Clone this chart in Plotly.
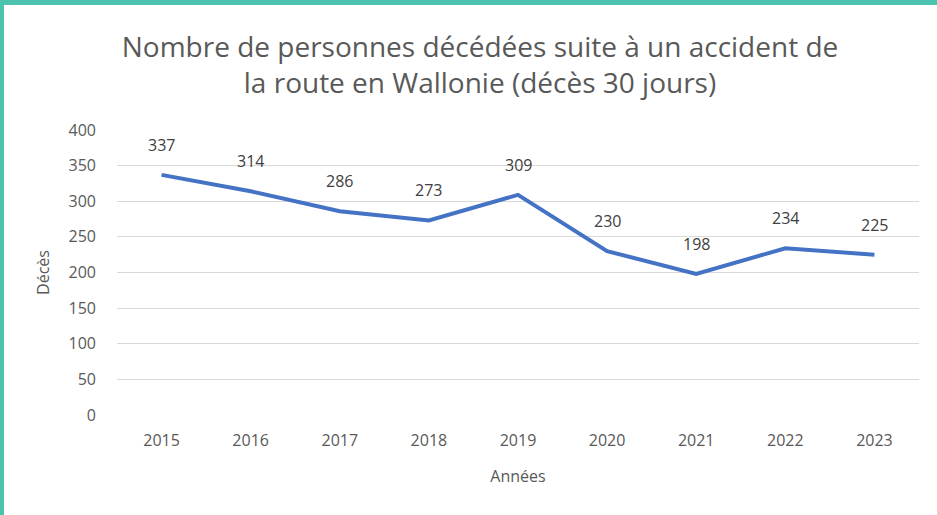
import plotly.graph_objects as go

years = ["2015", "2016", "2017", "2018", "2019", "2020", "2021", "2022", "2023"]
deaths = [337, 314, 286, 273, 309, 230, 198, 234, 225]
y_ticks = [0, 50, 100, 150, 200, 250, 300, 350, 400]

title_text = "Nombre de personnes décédées suite à un accident de<br>la route en Wallonie (décès 30 jours)"

FONT = "Open Sans"
GRAY = "#595959"

W, H = 937, 515
L, R, T, B = 117, 18, 130, 100
pw, ph = W - L - R, H - T - B

def px_to_paper_x(px):
    return (px - L) / pw

def px_to_paper_y(py):
    return (H - B - py) / ph

fig = go.Figure()
fig.add_trace(go.Scatter(
    x=years, y=deaths, mode="lines",
    line=dict(color="#4472C4", width=4),
    hoverinfo="x+y", showlegend=False,
))

for i, v in enumerate(deaths):
    fig.add_annotation(x=i, y=v, text=str(v), showarrow=False, yshift=30,
                       font=dict(family=FONT, size=16, color="#404040"))

# teal frame (top and left)
fig.add_shape(type="rect", xref="paper", yref="paper",
              x0=px_to_paper_x(0), x1=px_to_paper_x(W), y0=px_to_paper_y(5), y1=px_to_paper_y(-1),
              fillcolor="#4CC3AE", line=dict(width=0), layer="above")
fig.add_shape(type="rect", xref="paper", yref="paper",
              x0=px_to_paper_x(-1), x1=px_to_paper_x(4), y0=px_to_paper_y(H + 1), y1=px_to_paper_y(0),
              fillcolor="#4CC3AE", line=dict(width=0), layer="above")

fig.update_layout(
    width=W, height=H,
    margin=dict(l=L, r=R, t=T, b=B),
    paper_bgcolor="white", plot_bgcolor="white",
    font=dict(family=FONT, color=GRAY),
    title=dict(text=title_text, x=480 / W, xanchor="center", y=1 - 57 / H, yanchor="middle",
               font=dict(family=FONT, size=28, color=GRAY)),
    xaxis=dict(type="category", range=[-0.5, 8.5], showgrid=False, zeroline=False,
               showline=False, ticks="", tickfont=dict(size=16, color=GRAY),
               ticklabelstandoff=14,
               title=dict(text="Années", font=dict(size=16, color=GRAY), standoff=20)),
    yaxis=dict(range=[0, 400], tickvals=y_ticks, showgrid=True, gridcolor="#D9D9D9",
               gridwidth=1, zeroline=False, showline=False, ticks="",
               tickfont=dict(size=16, color=GRAY), ticklabelstandoff=20,
               title=dict(text="Décès", font=dict(size=16, color=GRAY), standoff=14)),
)

fig.write_html("out.html", config={"displayModeBar": False},
               post_script="document.body.style.margin='0';")
